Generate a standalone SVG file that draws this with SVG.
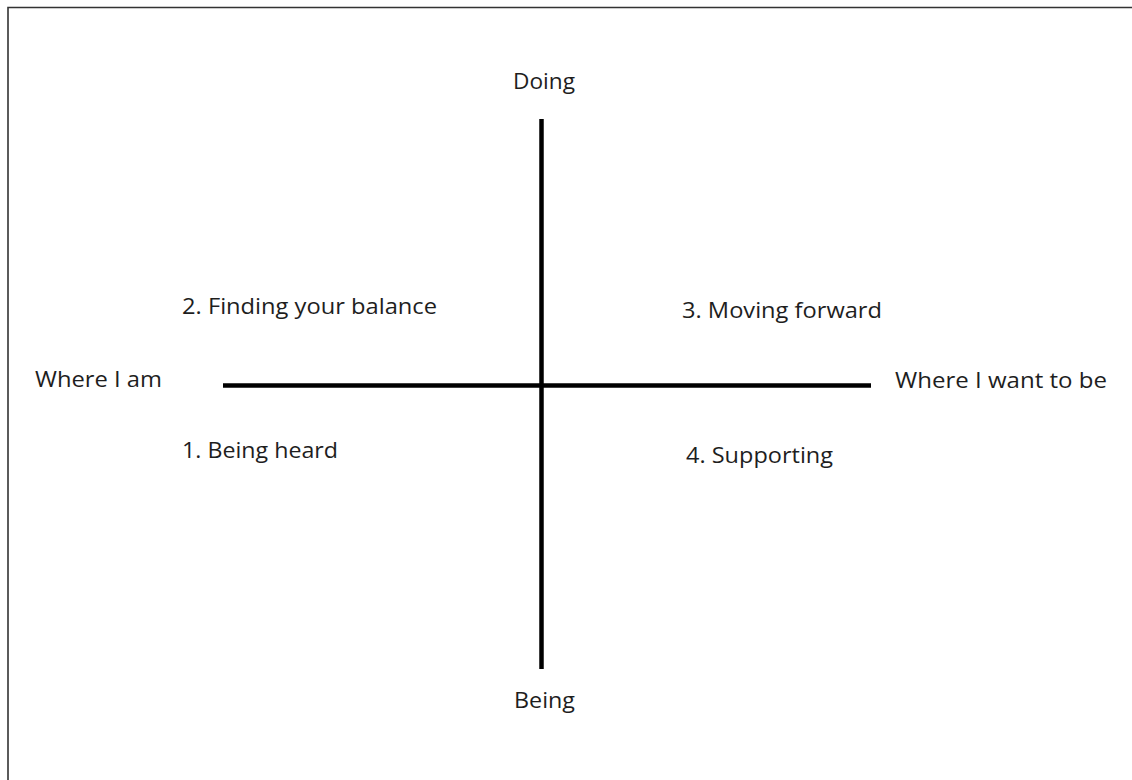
<svg xmlns="http://www.w3.org/2000/svg" width="1132" height="780" viewBox="0 0 1132 780">
<style>
text{font-family:"Open Sans","Liberation Sans",sans-serif;font-size:22.5px;fill:#1e1e1e}
.axis{stroke:#000;stroke-width:4.5;fill:none}
</style>
<rect x="0" y="0" width="1132" height="780" fill="#fff"/>
<path d="M8,790 V7.5 H1140" fill="none" stroke="#333" stroke-width="1.6"/>
<g id="connectors">
<line class="axis" x1="541.5" y1="119" x2="541.5" y2="669"/>
<line class="axis" x1="223" y1="385.5" x2="871" y2="385.5"/>
</g>
<g id="doing"><text x="513" y="89" textLength="62" lengthAdjust="spacingAndGlyphs">Doing</text></g>
<g id="being"><text x="514" y="708" textLength="61" lengthAdjust="spacingAndGlyphs">Being</text></g>
<g id="where-i-am"><text x="35" y="387" textLength="127" lengthAdjust="spacingAndGlyphs">Where I am</text></g>
<g id="where-i-want"><text x="895" y="388" textLength="212" lengthAdjust="spacingAndGlyphs">Where I want to be</text></g>
<g id="q2"><text x="182" y="314" textLength="255" lengthAdjust="spacingAndGlyphs">2. Finding your balance</text></g>
<g id="q1"><text x="182" y="458" textLength="156" lengthAdjust="spacingAndGlyphs">1. Being heard</text></g>
<g id="q3"><text x="682" y="318" textLength="200" lengthAdjust="spacingAndGlyphs">3. Moving forward</text></g>
<g id="q4"><text x="686" y="463" textLength="147" lengthAdjust="spacingAndGlyphs">4. Supporting</text></g>
</svg>
